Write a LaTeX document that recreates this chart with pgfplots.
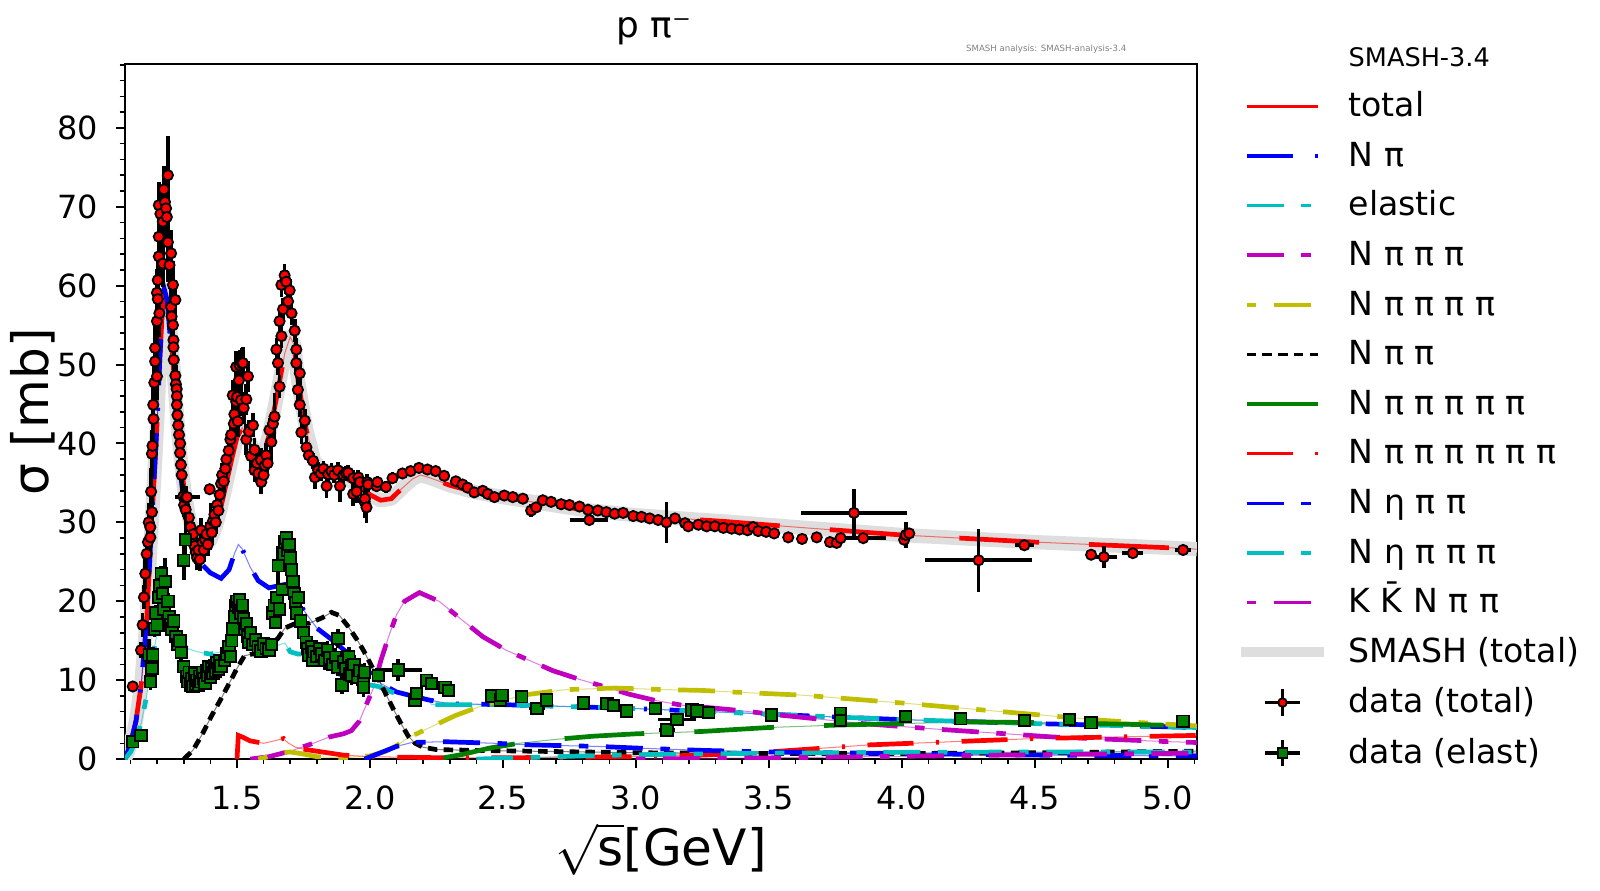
\documentclass[border=0pt]{standalone}
\usepackage{fontspec}
\setmainfont{DejaVu Sans}
\usepackage{pgfplots}
\usepackage{pgfplotstable}
\pgfplotsset{compat=1.18}
\definecolor{cR}{RGB}{255,0,0}
\definecolor{cB}{RGB}{0,0,255}
\definecolor{cC}{RGB}{0,191,191}
\definecolor{cM}{RGB}{191,0,191}
\definecolor{cY}{RGB}{191,191,0}
\definecolor{cG}{RGB}{0,128,0}
\definecolor{cBand}{RGB}{222,222,222}
\tikzset{
 pNpi/.style={dash pattern=on 22.5pt off 11pt on 1.5pt off 11pt},
 pA/.style={dash pattern=on 18pt off 8.6pt on 4.6pt off 8.6pt},
 pB/.style={dash pattern=on 4.6pt off 8.6pt on 18pt off 8.6pt},
 pC/.style={dash pattern=on 4.6pt off 3.1pt},
 pD/.style={dash pattern=on 39pt off 24.5pt},
 lbox/.style={draw=none, fill=none},
}
\pgfplotstableread{
x y
1.078 0
1.09 1.0
1.10 2.0
1.12 4.8
1.14 9.5
1.16 17.5
1.177 28.6
1.189 36
1.20 43
1.21 51
1.218 56
1.227 59.5
1.237 58.5
1.25 54
1.26 50
1.27 45.5
1.28 41
1.29 37.5
1.30 34.5
1.32 30.5
1.34 28.2
1.36 27.2
1.38 27.0
1.40 27.8
1.42 29.5
1.44 32
1.46 35
1.48 38
1.50 40.8
1.52 42.0
1.54 40.8
1.57 38.6
1.60 38.6
1.62 41.0
1.65 46.0
1.68 51.5
1.70 53.5
1.715 52.5
1.73 47.8
1.76 41.8
1.79 37.8
1.82 36.6
1.86 36.4
1.90 35.8
1.95 34.8
2.00 33.5
2.04 32.8
2.08 33.0
2.12 34.3
2.16 35.5
2.19 36.0
2.23 35.6
2.30 34.7
2.40 33.8
2.50 33.2
2.61 32.6
2.80 31.6
3.00 30.9
3.25 30.3
3.34 30.1
3.60 29.4
4.00 28.4
4.50 27.5
5.06 26.7
5.11 26.6
}\tabTotal
\pgfplotstableread{
x y
1.078 0
1.09 1.0
1.10 2.0
1.12 4.8
1.14 9.5
1.16 17.5
1.177 28.6
1.189 36
1.20 43
1.21 51
1.218 56
1.227 59.5
1.237 58.2
1.25 53
1.26 49
1.27 44.5
1.28 39.5
1.29 35.5
1.30 32.5
1.32 28.5
1.34 26.2
1.37 24.6
1.40 23.6
1.44 22.9
1.47 24.0
1.49 26.0
1.505 27.2
1.52 26.6
1.55 24.3
1.58 22.6
1.62 21.7
1.66 22.0
1.69 22.2
1.72 20.6
1.75 18.9
1.80 16.6
1.862 15.0
1.92 13.3
1.98 11.7
2.04 9.6
2.10 8.5
2.16 8.0
2.22 7.5
2.30 7.0
2.50 6.9
2.80 6.6
3.00 6.4
3.36 5.9
3.70 5.4
4.00 5.0
4.50 4.5
5.11 4.0
}\tabNpi
\pgfplotstableread{
x y
1.078 0
1.10 0.9
1.12 2.4
1.14 4.6
1.16 8.0
1.18 12.5
1.20 16.0
1.22 18.2
1.235 18.8
1.25 18.0
1.27 16.0
1.29 14.6
1.315 14.0
1.35 13.6
1.40 13.3
1.44 13.6
1.47 14.8
1.50 16.4
1.52 16.7
1.55 15.6
1.59 14.4
1.63 14.0
1.66 14.5
1.68 14.7
1.70 13.6
1.73 13.3
1.77 13.4
1.81 12.6
1.862 11.3
1.925 9.9
1.98 9.5
2.031 9.2
2.081 8.5
2.13 8.0
2.18 7.6
2.219 7.5
2.232 6.9
2.30 6.9
2.50 6.9
2.80 6.6
3.00 6.4
3.36 5.9
3.70 5.4
4.00 5.0
4.50 4.5
5.11 4.0
}\tabEl
\pgfplotstableread{
x y
1.55 0
1.62 0.3
1.70 1.0
1.787 2.0
1.847 2.8
1.90 3.2
1.93 3.6
1.96 4.8
1.985 6.8
2.013 9.0
2.041 12.5
2.07 15.5
2.10 18.3
2.13 20.0
2.186 21.1
2.26 20.0
2.362 17.2
2.425 15.5
2.512 13.8
2.60 12.5
2.688 11.2
2.788 10.1
2.889 9.1
2.977 8.2
3.077 7.4
3.178 6.8
3.249 6.6
3.375 6.2
3.563 5.5
3.852 4.5
4.128 3.8
4.568 2.8
5.008 2.2
5.11 2.1
}\tabNpipipi
\pgfplotstableread{
x y
1.58 0
1.63 0.4
1.67 0.8
1.70 0.9
1.74 0.7
1.80 0.3
1.90 0.15
2.00 0.4
2.06 1.0
2.10 1.7
2.144 2.7
2.219 3.9
2.32 5.5
2.408 6.6
2.446 7.0
2.52 7.6
2.597 8.2
2.735 8.8
2.923 9.0
3.11 8.8
3.249 8.7
3.362 8.5
3.626 8.1
4.003 7.1
4.38 6.0
4.757 4.9
5.058 4.3
5.11 4.2
}\tabFourpi
\pgfplotstableread{
x y
1.30 0
1.334 1.1
1.37 3.2
1.403 5.4
1.436 7.4
1.466 9.3
1.50 11.5
1.528 13.1
1.555 13.3
1.58 13.3
1.61 13.9
1.654 15.3
1.68 16.6
1.72 17.2
1.77 17.2
1.82 17.9
1.855 18.6
1.885 18.2
1.918 16.8
1.95 15.2
1.975 13.8
2.003 12.0
2.031 10.2
2.06 8.2
2.09 6.2
2.12 4.3
2.144 2.9
2.17 2.0
2.20 1.5
2.25 1.2
2.40 1.1
2.60 1.0
3.00 0.8
3.50 0.7
4.00 0.7
4.50 0.8
5.11 1.0
}\tabTwopi
\pgfplotstableread{
x y
2.25 0
2.35 0.6
2.45 1.4
2.56 2.0
2.70 2.5
2.84 2.9
3.00 3.2
3.25 3.5
3.50 4.0
3.75 4.3
4.00 4.5
4.25 4.7
4.60 4.6
5.11 4.2
}\tabFivepi
\pgfplotstableread{
x y
1.50 0
1.505 3.0
1.52 2.8
1.55 2.3
1.60 2.0
1.64 2.3
1.675 2.6
1.69 2.1
1.72 1.5
1.76 1.2
1.80 1.0
1.90 0.5
2.00 0.3
2.30 0.15
2.70 0.2
3.00 0.3
3.25 0.5
3.50 0.9
3.88 1.8
4.50 2.6
5.11 3.0
}\tabSixpi
\pgfplotstableread{
x y
1.98 0
2.04 0.8
2.10 1.6
2.157 2.1
2.28 2.2
2.47 2.0
2.60 1.8
2.86 1.6
3.00 1.4
3.25 1.1
3.50 0.9
4.00 0.7
4.50 0.5
5.11 0.4
}\tabEtaTwo
\pgfplotstableread{
x y
2.40 0
2.60 0.2
2.80 0.4
3.00 0.55
3.50 0.75
4.00 0.85
4.50 0.9
5.11 0.9
}\tabEtaThree
\pgfplotstableread{
x y
3.00 0
3.50 0.15
4.00 0.35
4.50 0.55
5.11 0.75
}\tabKK
\pgfplotstableread{
x y ex ey
1.108 9.2 0 0
1.139 13.8 0 1.0
1.145 17.0 0 1.5
1.150 20.5 0 1.5
1.155 23.5 0 2.0
1.160 26.0 0 2.0
1.165 27.5 0 2.0
1.168 30.0 0 2.5
1.174 28.1 0 2.5
1.174 29.4 0 2.5
1.177 33.9 0 3.0
1.180 31.3 0 3.0
1.180 38.7 0 3.0
1.182 39.7 0 3.0
1.185 44.9 0 3.0
1.186 43.1 0 3.0
1.189 47.7 0 3.0
1.192 50.4 0 3.0
1.192 52.1 0 3.0
1.199 48.5 0 3.0
1.199 55.5 0 3.0
1.199 59.1 0 3.0
1.202 58.3 0 3.0
1.202 60.7 0 3.0
1.206 63.7 0 3.0
1.206 66.2 0 3.0
1.206 70.2 0 3.0
1.208 56.5 0 3.0
1.212 69.1 0 3.0
1.221 68.1 0 3.0
1.221 62.8 0 3.0
1.225 72.2 0 3.0
1.229 70.6 0 3.0
1.233 69.8 0 3.0
1.236 68.7 0 3.0
1.240 74.0 0 5.0
1.240 65.5 0 5.0
1.246 62.6 0 3.0
1.252 64.1 0 3.0
1.252 57.3 0 3.0
1.254 56.1 0 3.0
1.259 60.1 0 3.0
1.259 55.0 0 3.0
1.261 53.1 0 3.0
1.261 52.2 0 2.5
1.262 50.6 0 2.5
1.268 58.2 0 2.5
1.268 48.6 0 2.5
1.270 47.5 0 2.5
1.273 46.9 0 2.0
1.274 46.0 0 2.0
1.274 44.9 0 2.0
1.276 43.6 0 2.0
1.279 42.3 0 2.0
1.282 41.1 0 2.0
1.286 40.0 0 2.0
1.286 38.8 0 2.0
1.289 37.3 0 2.0
1.292 36.0 0 2.0
1.298 33.3 0 1.5
1.301 32.2 0 1.5
1.307 31.6 0 1.5
1.307 33.1 0 1.5
1.312 33.2 0.047 0
1.319 30.6 0 1.5
1.325 29.4 0 1.5
1.330 27.9 0 1.5
1.335 28.5 0 1.5
1.340 27.0 0 1.5
1.345 26.2 0 1.5
1.350 25.5 0 1.5
1.355 26.5 0 1.5
1.360 25.3 0 1.5
1.365 29.0 0 1.5
1.370 27.5 0 1.5
1.375 26.5 0 1.5
1.380 27.8 0 1.5
1.385 28.5 0 1.5
1.390 27.2 0 1.5
1.397 34.2 0 0
1.400 29.5 0 3.0
1.405 28.7 0 1.5
1.410 30.2 0 1.5
1.415 31.0 0 1.5
1.420 30.0 0 1.5
1.425 32.2 0 1.5
1.430 31.5 0 1.5
1.435 33.5 0 1.5
1.440 34.9 0 1.5
1.444 36.0 0 1.5
1.450 35.2 0 1.5
1.456 36.8 0 1.5
1.460 38.0 0 1.5
1.469 39.1 0 1.5
1.475 40.5 0 1.5
1.478 41.1 0 1.5
1.484 46.1 0 2.0
1.488 42.5 0 2.0
1.490 43.7 0 2.0
1.497 45.3 0 2.0
1.497 49.7 0 2.0
1.500 45.9 0 2.0
1.503 42.8 0 2.0
1.507 48.0 0 2.0
1.510 49.9 0 2.0
1.515 45.5 0 2.0
1.519 50.1 0 2.0
1.522 50.2 0 2.0
1.525 44.5 0 2.0
1.535 45.6 0 2.0
1.535 40.5 0 2.0
1.541 48.5 0 2.0
1.545 41.5 0 1.5
1.553 38.4 0 1.5
1.560 42.3 0 1.5
1.566 39.2 0 1.5
1.566 36.6 0 1.5
1.575 37.5 0 1.5
1.580 36.2 0 1.5
1.590 37.9 0 1.5
1.591 35.1 0 1.5
1.600 36.0 0 1.5
1.605 37.2 0 1.5
1.610 38.5 0 1.5
1.615 37.5 0 1.5
1.622 41.7 0 1.5
1.629 40.2 0 3.0
1.635 42.5 0 1.5
1.641 43.4 0 3.0
1.648 51.9 0 1.5
1.654 50.2 0 1.5
1.660 47.2 0 1.5
1.660 55.5 0 1.5
1.667 53.6 0 1.5
1.667 60.1 0 1.5
1.673 57.0 0 1.5
1.679 61.3 0 1.5
1.685 60.5 0 1.5
1.692 58.0 0 1.5
1.698 59.4 0 1.5
1.705 56.5 0 1.5
1.717 54.3 0 1.5
1.723 51.9 0 1.5
1.723 50.2 0 1.5
1.729 46.8 0 1.5
1.736 48.9 0 1.5
1.736 44.9 0 1.5
1.742 41.4 0 1.5
1.755 42.9 0 1.5
1.761 39.5 0 1.5
1.770 38.5 0 1.0
1.786 37.8 0 1.0
1.793 35.7 0 1.5
1.805 36.6 0 1.0
1.815 36.2 0 1.0
1.825 36.8 0 1.0
1.837 34.6 0 1.5
1.843 36.1 0 1.0
1.855 36.5 0 1.0
1.865 36.0 0 1.0
1.880 36.6 0 1.0
1.887 34.6 0 2.0
1.900 36.0 0 1.0
1.910 36.2 0 1.0
1.918 36.3 0 1.0
1.937 35.6 0 1.0
1.937 33.6 0 1.5
1.950 33.9 0 1.5
1.956 35.7 0 1.0
1.962 35.1 0 1.0
1.980 32.6 0 2.0
1.981 33.0 0 2.0
1.987 31.9 0 2.0
1.990 35.1 0 1.0
1.993 34.8 0 1.0
2.025 34.6 0 0.8
2.028 35.1 0 0.8
2.060 34.5 0 0.8
2.085 35.6 0 0.8
2.122 36.2 0 0.5
2.153 36.5 0 0.5
2.184 36.9 0 0.5
2.216 36.7 0 0.5
2.247 36.5 0 0.5
2.279 35.9 0 0.5
2.323 35.2 0 0.5
2.348 34.8 0 0.5
2.367 34.4 0 0.5
2.392 33.8 0 0.5
2.424 34.0 0 0.5
2.443 33.6 0 0.5
2.468 33.2 0 0.5
2.505 33.4 0 0.5
2.537 33.2 0 0.5
2.575 33.0 0 0.5
2.606 31.5 0 0.8
2.625 31.9 0 0.5
2.650 32.8 0 0.5
2.681 32.6 0 0.5
2.719 32.3 0 0.5
2.750 32.2 0 0.5
2.788 32.0 0 0.5
2.820 31.6 0 0.5
2.825 30.3 0.072 0
2.857 31.5 0 0.5
2.889 31.3 0 0.5
2.920 31.1 0 0.5
2.952 31.2 0 0.5
2.990 30.8 0 0.5
3.021 30.7 0 0.5
3.052 30.5 0 0.5
3.084 30.3 0 0.5
3.115 30.0 0 2.6
3.147 30.5 0 0.5
3.185 29.9 0 0.5
3.197 29.5 0 0.6
3.235 29.7 0 0.5
3.266 29.5 0 0.5
3.297 29.5 0 0.5
3.329 29.3 0 0.5
3.360 29.2 0 0.5
3.390 29.1 0 0.5
3.420 29.0 0 0.5
3.441 29.4 0 0.5
3.460 28.9 0 0.5
3.490 28.8 0 0.5
3.520 28.6 0 0.5
3.573 28.1 0 0.5
3.625 27.9 0 0.5
3.680 28.1 0 0.5
3.730 27.5 0 0.5
3.755 27.4 0 0.5
3.770 28.0 0 0.5
3.820 31.2 0.2 3.0
3.855 28.0 0.085 0
4.009 27.8 0 0.5
4.015 28.4 0 1.7
4.028 28.6 0 0.5
4.289 25.2 0.2 4.0
4.461 27.1 0.035 0.3
4.712 25.9 0 0.3
4.760 25.6 0.05 1.4
4.869 26.1 0.04 0.3
5.058 26.5 0.03 0.3
}\tabDataT
\pgfplotstableread{
x y ex ey
1.108 2.2 0 0.5
1.139 3.0 0 0.5
1.170 13.2 0 2.0
1.175 9.8 0 1.0
1.180 11.5 0 1.0
1.183 13.2 0 1.0
1.190 16.5 0 1.0
1.195 18.5 0 1.0
1.200 17.0 0 1.0
1.205 20.5 0 1.0
1.210 22.0 0 1.0
1.215 23.5 0 1.0
1.220 21.0 0 1.0
1.225 19.0 0 1.0
1.230 22.5 0 3.0
1.240 20.0 0 1.0
1.245 18.0 0 1.0
1.250 17.0 0 1.0
1.255 16.5 0 1.0
1.262 17.5 0 1.0
1.270 15.5 0 1.0
1.278 14.5 0 1.0
1.285 15.0 0 1.0
1.290 13.5 0 1.0
1.300 25.2 0 2.5
1.306 27.8 0 3.5
1.300 11.7 0 0.6
1.310 10.5 0 0.6
1.315 9.8 0 0.6
1.320 11.0 0 0.6
1.325 9.4 0 0.6
1.330 10.2 0 0.6
1.335 9.2 0 0.6
1.340 10.8 0 0.6
1.345 9.5 0 0.6
1.350 10.0 0 0.6
1.355 9.3 0 0.6
1.360 10.5 0 0.6
1.365 9.8 0 0.6
1.370 11.0 0 0.6
1.375 10.2 0 0.6
1.380 9.6 0 0.6
1.385 11.2 0 0.6
1.390 10.6 0 0.6
1.395 11.7 0 0.6
1.400 10.4 0 0.6
1.405 11.5 0 0.6
1.410 10.9 0 0.6
1.415 11.8 0 0.6
1.420 11.1 0 0.6
1.425 12.2 0 0.6
1.430 11.4 0 0.6
1.435 12.5 0 0.6
1.440 11.8 0 0.6
1.453 12.5 0 0.6
1.460 13.3 0 0.6
1.470 14.2 0 0.6
1.475 13.0 0 0.6
1.480 15.0 0 0.6
1.485 16.5 0 0.6
1.490 18.0 0 0.6
1.495 19.5 0 0.6
1.500 20.0 0 0.6
1.505 19.2 0 0.6
1.510 20.2 0 0.6
1.515 18.5 0 0.6
1.520 19.5 0 0.6
1.525 17.8 0 0.6
1.530 16.5 0 0.6
1.535 17.2 0 0.6
1.540 15.5 0 0.6
1.545 14.8 0 0.6
1.550 16.0 0 0.6
1.560 14.5 0 0.6
1.570 15.1 0 0.6
1.580 14.2 0 0.6
1.590 13.7 0 0.6
1.600 14.6 0 0.6
1.610 14.0 0 0.6
1.620 13.8 0 0.6
1.630 14.5 0 0.6
1.635 18.5 0 0.8
1.640 19.5 0 0.8
1.645 17.3 0 0.8
1.650 20.5 0 0.8
1.655 24.5 0 2.5
1.660 19.0 0 0.8
1.670 21.5 0 0.8
1.675 26.0 0 0.8
1.680 27.5 0 0.8
1.685 28.0 0 0.8
1.690 26.5 0 0.8
1.695 27.2 0 0.8
1.700 25.5 0 0.8
1.705 24.0 0 0.8
1.710 22.5 0 0.8
1.715 21.0 0 0.8
1.720 19.8 0 0.8
1.725 18.5 0 0.8
1.730 20.5 0 0.8
1.740 17.5 0 0.8
1.750 16.0 0 0.8
1.760 14.8 0 0.8
1.765 14.0 0 0.8
1.770 13.2 0 0.8
1.780 14.2 0 0.8
1.785 12.5 0 0.8
1.790 13.6 0 0.8
1.800 13.0 0 0.8
1.810 14.0 0 0.8
1.820 13.3 0 1.2
1.830 12.5 0 1.2
1.840 13.8 0 1.2
1.850 12.8 0 1.2
1.860 12.0 0 1.2
1.870 12.9 0 1.2
1.880 15.3 0 1.2
1.880 11.7 0 1.2
1.895 9.4 0 1.2
1.900 12.3 0 1.2
1.910 11.5 0 1.2
1.920 13.0 0 1.2
1.925 10.8 0 1.2
1.930 11.9 0 1.2
1.930 10.6 0 1.2
1.940 12.0 0 1.2
1.955 10.4 0 1.2
1.960 11.2 0 1.2
1.976 10.0 0 1.2
1.976 9.1 0 1.2
1.980 11.0 0 1.2
2.031 10.6 0 0.6
2.106 11.3 0.088 1.4
2.169 7.5 0 0.5
2.175 8.3 0 0.5
2.213 10.0 0 0.5
2.232 9.6 0 0.5
2.282 9.1 0 0.5
2.295 8.7 0 0.5
2.458 8.0 0 0.5
2.490 7.5 0 0.5
2.496 8.1 0 0.5
2.571 7.9 0 0.5
2.628 6.4 0.03 0.5
2.665 7.5 0 0.5
2.803 7.1 0 0.5
2.891 7.0 0 0.5
2.916 6.8 0 0.5
2.966 6.1 0 0.5
3.073 6.4 0 0.5
3.117 3.7 0.03 0.5
3.155 5.0 0.072 0.5
3.211 6.2 0 0.5
3.230 6.1 0 0.5
3.274 5.9 0 0.5
3.510 5.6 0 0.5
3.770 5.8 0 0.5
3.770 4.9 0 0.5
4.015 5.4 0 0.5
4.222 5.1 0 0.5
4.461 4.9 0 0.5
4.631 5.0 0 0.5
4.712 4.6 0 0.5
5.058 4.8 0 0.5
}\tabDataE
\begin{document}
\begin{tikzpicture}
\useasboundingbox (0,0) rectangle (782pt,435pt);
\begin{axis}[
  at={(61pt,64pt)}, anchor=south west,
  scale only axis, width=524pt, height=339.5pt,
  xmin=1.078, xmax=5.11, ymin=0, ymax=88.04,
  clip mode=individual,
  xtick={1.5,2.0,2.5,3.0,3.5,4.0,4.5,5.0},
  minor xtick={1.1,1.2,1.3,1.4,1.6,1.7,1.8,1.9,2.1,2.2,2.3,2.4,2.6,2.7,2.8,2.9,3.1,3.2,3.3,3.4,3.6,3.7,3.8,3.9,4.1,4.2,4.3,4.4,4.6,4.7,4.8,4.9,5.1},
  ytick={0,10,20,30,40,50,60,70,80},
  minor ytick={2,4,6,8,12,14,16,18,22,24,26,28,32,34,36,38,42,44,46,48,52,54,56,58,62,64,66,68,72,74,76,78,82,84,86,88},
  tick align=outside, tick pos=left,
  major tick length=4.4pt, minor tick length=2.5pt,
  major tick style={black, line width=1pt},
  minor tick style={black, line width=0.75pt},
  axis line style={line width=1pt},
  scaled ticks=false,
  /pgf/number format/assume math mode=true,
  xticklabel style={font=\fontsize{15.6}{18}\selectfont, anchor=north, inner sep=0pt, yshift=-8.6pt,
    /pgf/number format/.cd, fixed, fixed zerofill, precision=1},
  yticklabel style={font=\fontsize{15.6}{18}\selectfont, anchor=east, inner sep=0pt, xshift=-8.6pt},
  xlabel={$\sqrt{\mathrm{s}}$[GeV]},
  ylabel={σ [mb]},
  xlabel style={font=\fontsize{24.5}{29}\selectfont, at={(axis description cs:0.5,-0.1296)}, anchor=center},
  ylabel style={font=\fontsize{24.5}{29}\selectfont, at={(axis description cs:-0.0859,0.5)}, anchor=center},
  title={p π⁻},
  title style={font=\fontsize{17.5}{21}\selectfont, at={(axis description cs:0.4935,1.0217)}, anchor=base},
  legend style={at={(axis description cs:1.0448,1.0317)}, anchor=north west,
    draw=none, fill=none, inner sep=0pt, outer sep=0pt,
    row sep=8.75pt, column sep=14pt,
    font=\fontsize{16.2}{19}\selectfont,
    nodes={inner sep=0pt, outer sep=0pt, text height=12pt, text depth=3.5pt, anchor=base west}},
]
% grey band
\addplot[cBand, line width=7pt, line join=round, forget plot] table {\tabTotal};
% thin underlying lines
\addplot[cR, line width=0.5pt, opacity=0.5, forget plot] table {\tabTotal};
\addplot[cB, line width=0.5pt, opacity=0.5, forget plot] table {\tabNpi};
\addplot[cC, line width=0.5pt, opacity=0.5, forget plot] table {\tabEl};
\addplot[cM, line width=0.5pt, opacity=0.5, forget plot] table {\tabNpipipi};
\addplot[cY, line width=0.5pt, opacity=0.5, forget plot] table {\tabFourpi};
\addplot[black, line width=0.5pt, opacity=0.5, forget plot] table {\tabTwopi};
\addplot[cG, line width=0.5pt, opacity=0.5, forget plot] table {\tabFivepi};
\addplot[cR, line width=0.5pt, opacity=0.5, forget plot] table {\tabSixpi};
\addplot[cB, line width=0.5pt, opacity=0.5, forget plot] table {\tabEtaTwo};
\addplot[cC, line width=0.5pt, opacity=0.5, forget plot] table {\tabEtaThree};
\addplot[cM, line width=0.5pt, opacity=0.5, forget plot] table {\tabKK};
% dashed thick
\addplot[cR, line width=2.3pt, pD, forget plot] table {\tabTotal};
\addplot[cB, line width=2.3pt, pNpi, forget plot] table {\tabNpi};
\addplot[cC, line width=2.3pt, pA, forget plot] table {\tabEl};
\addplot[cM, line width=2.3pt, pA, forget plot] table {\tabNpipipi};
\addplot[cY, line width=2.3pt, pB, forget plot] table {\tabFourpi};
\addplot[black, line width=2.3pt, pC, forget plot] table {\tabTwopi};
\addplot[cG, line width=2.3pt, pD, forget plot] table {\tabFivepi};
\addplot[cR, line width=2.3pt, pNpi, forget plot] table {\tabSixpi};
\addplot[cB, line width=2.3pt, pA, forget plot] table {\tabEtaTwo};
\addplot[cC, line width=2.3pt, pA, forget plot] table {\tabEtaThree};
\addplot[cM, line width=2.3pt, pB, forget plot] table {\tabKK};
% data
\addplot[only marks, mark=*, mark size=2.5pt, mark options={fill=cR, draw=black, line width=0.9pt, solid}, forget plot,
  error bars/.cd, x dir=both, x explicit, y dir=both, y explicit, error mark=none,
  error bar style={line width=1.8pt, black, solid}]
  table[x=x, y=y, x error=ex, y error=ey] {\tabDataT};
\addplot[only marks, mark=square*, mark size=2.8pt, mark options={fill=cG, draw=black, line width=0.9pt, solid}, forget plot,
  error bars/.cd, x dir=both, x explicit, y dir=both, y explicit, error mark=none,
  error bar style={line width=1.8pt, black, solid}]
  table[x=x, y=y, x error=ex, y error=ey] {\tabDataE};
% legend
\addlegendimage{empty legend}
\addlegendentry{\fontsize{12.5}{14}\selectfont SMASH-3.4}
\addlegendimage{legend image code/.code={\path[lbox] (0pt,-1pt) rectangle (35pt,10pt); \draw[cR, line width=1.7pt, pD] (0pt,5pt) -- (35pt,5pt);}}
\addlegendentry{total}
\addlegendimage{legend image code/.code={\path[lbox] (0pt,-1pt) rectangle (35pt,10pt); \draw[cB, line width=1.7pt, pNpi] (0pt,5pt) -- (35pt,5pt);}}
\addlegendentry{N π}
\addlegendimage{legend image code/.code={\path[lbox] (0pt,-1pt) rectangle (35pt,10pt); \draw[cC, line width=1.7pt, pA] (0pt,5pt) -- (35pt,5pt);}}
\addlegendentry{elastic}
\addlegendimage{legend image code/.code={\path[lbox] (0pt,-1pt) rectangle (35pt,10pt); \draw[cM, line width=1.7pt, pA] (0pt,5pt) -- (35pt,5pt);}}
\addlegendentry{N π π π}
\addlegendimage{legend image code/.code={\path[lbox] (0pt,-1pt) rectangle (35pt,10pt); \draw[cY, line width=1.7pt, pB] (0pt,5pt) -- (35pt,5pt);}}
\addlegendentry{N π π π π}
\addlegendimage{legend image code/.code={\path[lbox] (0pt,-1pt) rectangle (35pt,10pt); \draw[black, line width=1.7pt, pC] (0pt,5pt) -- (35pt,5pt);}}
\addlegendentry{N π π}
\addlegendimage{legend image code/.code={\path[lbox] (0pt,-1pt) rectangle (35pt,10pt); \draw[cG, line width=1.7pt, pD] (0pt,5pt) -- (35pt,5pt);}}
\addlegendentry{N π π π π π}
\addlegendimage{legend image code/.code={\path[lbox] (0pt,-1pt) rectangle (35pt,10pt); \draw[cR, line width=1.7pt, pNpi] (0pt,5pt) -- (35pt,5pt);}}
\addlegendentry{N π π π π π π}
\addlegendimage{legend image code/.code={\path[lbox] (0pt,-1pt) rectangle (35pt,10pt); \draw[cB, line width=1.7pt, pA] (0pt,5pt) -- (35pt,5pt);}}
\addlegendentry{N η π π}
\addlegendimage{legend image code/.code={\path[lbox] (0pt,-1pt) rectangle (35pt,10pt); \draw[cC, line width=1.7pt, pA] (0pt,5pt) -- (35pt,5pt);}}
\addlegendentry{N η π π π}
\addlegendimage{legend image code/.code={\path[lbox] (0pt,-1pt) rectangle (35pt,10pt); \draw[cM, line width=1.7pt, pB] (0pt,5pt) -- (35pt,5pt);}}
\addlegendentry{K K̄ N π π}
\addlegendimage{legend image code/.code={\path[lbox] (0pt,-1pt) rectangle (35pt,10pt); \draw[cBand, line width=5pt, overlay] (-3pt,5pt) -- (38pt,5pt);}}
\addlegendentry{SMASH (total)}
\addlegendimage{legend image code/.code={\path[lbox] (0pt,-1pt) rectangle (35pt,10pt); \draw[black, line width=1.8pt] (9pt,5pt) -- (26pt,5pt); \draw[black, line width=1.8pt] (17.5pt,-1.5pt) -- (17.5pt,11.5pt); \path[draw=none] plot[mark=*, mark size=2.1pt, mark options={fill=cR, draw=black, line width=0.9pt}] coordinates {(17.5pt,5pt)};}}
\addlegendentry{data (total)}
\addlegendimage{legend image code/.code={\path[lbox] (0pt,-1pt) rectangle (35pt,10pt); \draw[black, line width=1.8pt] (9pt,5pt) -- (26pt,5pt); \draw[black, line width=1.8pt] (17.5pt,-1.5pt) -- (17.5pt,11.5pt); \path[draw=none] plot[mark=square*, mark size=2.4pt, mark options={fill=cG, draw=black, line width=0.9pt}] coordinates {(17.5pt,5pt)};}}
\addlegendentry{data (elast)}
\node[anchor=base east, font=\fontsize{4.2}{5}\selectfont, text=gray] at (axis description cs:0.9408,1.0191) {SMASH analysis: SMASH-analysis-3.4};
\end{axis}
\end{tikzpicture}
\end{document}
